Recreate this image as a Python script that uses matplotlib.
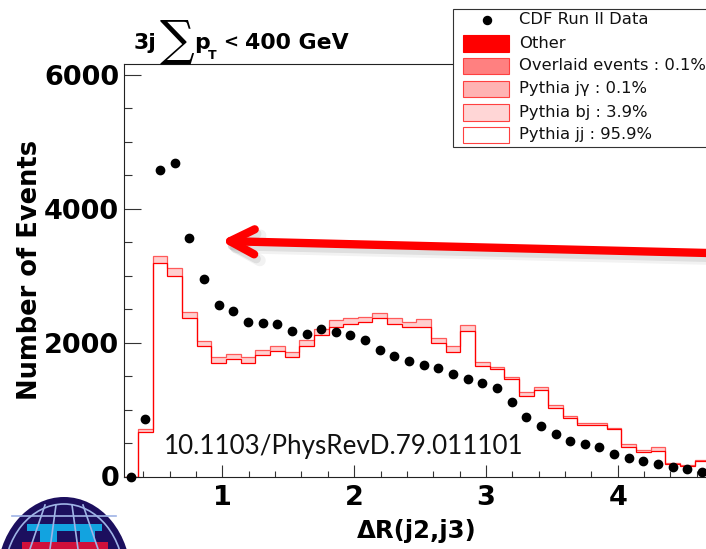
import numpy as np
import matplotlib
matplotlib.use("Agg")
import matplotlib.pyplot as plt
from matplotlib.patches import Rectangle, Ellipse, FancyArrowPatch
from matplotlib.lines import Line2D
from matplotlib.ticker import MultipleLocator, FixedLocator
from matplotlib.transforms import Affine2D

# --- 1. DATA ---
x_lo = 0.25          # low edge of the first bin
bin_w = 5.0 / 45     # 45 bins between 0.25 and 5.25

cdf_data = [0, 853, 4575, 4684, 3565, 2948, 2560, 2475, 2306, 2296,
            2281, 2172, 2132, 2202, 2157, 2110, 2037, 1888, 1803, 1724,
            1659, 1624, 1534, 1460, 1400, 1316, 1117, 893, 754, 634,
            535, 490, 440, 340, 281, 231, 191, 147, 117, 72]

pythia_jj = [0, 669, 3182, 2992, 2370, 1948, 1699, 1749, 1699, 1813,
             1878, 1779, 1953, 2112, 2236, 2280, 2311, 2361, 2271, 2236,
             2236, 1988, 1853, 2172, 1649, 1600, 1450, 1202, 1291, 1027,
             868, 769, 764, 709, 445, 370, 385, 191, 157, 236]

pythia_bj = [0, 36, 109, 125, 90, 79, 80, 74, 80, 75,
             75, 74, 84, 89, 100, 85, 74, 84, 99, 75,
             110, 74, 95, 89, 65, 39, 40, 55, 50, 40,
             35, 34, 30, 10, 40, 26, 51, 15, 15, 10]

legend_labels = ["CDF Run II Data", "Other", "Overlaid events : 0.1%",
                 "Pythia j\u03b3 : 0.1%", "Pythia bj : 3.9%", "Pythia jj : 95.9%"]
legend_colors = ["black", "#ff0000", "#ff8080", "#ffb3b3", "#ffd6d6", "white"]

y_ticks = [0, 2000, 4000, 6000]
x_ticks = [1, 2, 3, 4]

n = len(cdf_data)
edges = x_lo + bin_w * np.arange(n + 1)
centers = 0.5 * (edges[:-1] + edges[1:])
jj = np.array(pythia_jj, dtype=float)
total = jj + np.array(pythia_bj, dtype=float)

# --- 2. FIGURE ---
W, H = 706, 549
fig = plt.figure(figsize=(W / 100, H / 100), dpi=100)
# pixel coords, origin top-left
px = Affine2D().scale(1 / W, -1 / H).translate(0, 1) + fig.transFigure

ax = fig.add_axes([123.5 / W, (H - 476.5) / H, 659 / W, 412.5 / H])
ax.set_xlim(x_lo, x_lo + 5.0)
ax.set_ylim(0, 6160)

# stacked MC: bj band on top of jj
ax.stairs(total, edges, baseline=jj, fill=True, color="#ffd0d0", lw=0)
ax.stairs(total, edges, color="#ff5a5a", lw=0.9)
ax.stairs(jj, edges, color="#ff0000", lw=0.9)

ax.plot(centers, cdf_data, "o", color="black", ms=6, clip_on=False, zorder=5)

ax.xaxis.set_major_locator(FixedLocator(x_ticks))
ax.xaxis.set_minor_locator(MultipleLocator(0.2))
ax.yaxis.set_major_locator(FixedLocator(y_ticks))
ax.yaxis.set_minor_locator(MultipleLocator(500))
ax.tick_params(axis="both", which="both", direction="in", color="#333333", width=0.8,
               top=False, right=False)
ax.tick_params(axis="x", which="major", length=8.4, pad=6, labelsize=19.5)
ax.tick_params(axis="x", which="minor", length=4.3)
ax.tick_params(axis="y", which="major", length=12.2, pad=3.2, labelsize=19.5)
ax.tick_params(axis="y", which="minor", length=5.8)
for lab in ax.get_xticklabels() + ax.get_yticklabels():
    lab.set_fontweight("bold")
for sp in ax.spines.values():
    sp.set_color("#222222")
    sp.set_linewidth(0.8)

# --- 3. TEXTS ---
fig.text(30, 270, "Number of Events", transform=px, rotation=90, ha="center",
         va="center", fontsize=18.5, fontweight="bold")
fig.text(416.7, 531, "\u0394R(j2,j3)", transform=px, ha="center", va="center",
         fontsize=17.6, fontweight="bold")

fig.text(134, 49, "3j", transform=px, fontsize=15.8, fontweight="bold", va="baseline")
fig.text(160, 40.5, "\u2211", transform=px, fontsize=35, family="DejaVu Serif",
         va="center")
fig.text(194.5, 49, "p", transform=px, fontsize=15.8, fontweight="bold", va="baseline")
fig.text(208, 59, "T", transform=px, fontsize=9, fontweight="bold", va="baseline")
fig.text(223, 48, "<", transform=px, fontsize=13, fontweight="bold", va="baseline")
fig.text(245, 49, "400 GeV", transform=px, fontsize=15.8, fontweight="bold", va="baseline")

fig.text(164, 454, "10.1103/PhysRevD.79.011101", transform=px, fontsize=18.7,
         family="Lato", va="baseline", color="#111111")

# --- 4. LEGEND (drawn by hand, box runs off the right edge) ---
fig.add_artist(Rectangle((453.3, 9.3), 320, 137.4, transform=px, fc="white",
                         ec="#333333", lw=0.8))
rows = [20, 43.5, 66, 89, 112.5, 135]
fig.add_artist(Line2D([486.7], [rows[0]], marker="o", ms=5.8, color=legend_colors[0],
                      ls="none", transform=px))
for cy, col in zip(rows[1:], legend_colors[1:]):
    ec = "#ff0000" if col == "#ff0000" else "#ff4040"
    fig.add_artist(Rectangle((463, cy - 8.3), 46, 16.6, transform=px, fc=col,
                             ec=ec, lw=0.8))
for cy, lab in zip(rows, legend_labels):
    fig.text(519, cy, lab, transform=px, fontsize=11.8, va="center", color="#111111")

# --- 5. ARROW with a soft shadow ---
style = "->,head_length=1.75,head_width=0.9"
for dx, dy, a, lw in [(2, 6, 0.05, 8.5), (1.5, 4.5, 0.08, 6.5)]:
    fig.add_artist(FancyArrowPatch((720 + dx, 253.3 + dy), (221 + dx, 241 + dy),
                                   arrowstyle=style, mutation_scale=10, lw=lw,
                                   color="black", alpha=a, capstyle="round",
                                   joinstyle="round", shrinkA=0, shrinkB=0,
                                   transform=px))
fig.add_artist(FancyArrowPatch((720, 253.3), (221, 241), arrowstyle=style,
                               mutation_scale=10, lw=6, color="#ff0000",
                               capstyle="round", joinstyle="round",
                               shrinkA=0, shrinkB=0, transform=px))

# --- 6. CDF LOGO (bottom left corner, mostly cut off) ---
fig.add_artist(Ellipse((64, 578), 134, 162, transform=px, fc="#1c0f5e", ec="none"))
fig.add_artist(Ellipse((64, 578), 120, 148, transform=px, fc="none", ec="#9fb4e6", lw=1.2))
for x0, x1 in [(45, 30), (56, 50), (72, 78), (83, 98)]:
    fig.add_artist(Line2D([x0, x1], [505, 549], color="#9fb4e6", lw=1.2, transform=px))
fig.add_artist(Line2D([12, 116], [516, 516], color="#9fb4e6", lw=1.2, transform=px))
fig.add_artist(Rectangle((27, 524), 75, 7, transform=px, fc="#12a3e0", ec="none"))
fig.add_artist(Rectangle((40, 531), 17, 14, transform=px, fc="#12a3e0", ec="none"))
fig.add_artist(Rectangle((80, 531), 15, 14, transform=px, fc="#12a3e0", ec="none"))
fig.add_artist(Rectangle((22, 542), 86, 8, transform=px, fc="#d0103a", ec="none"))

fig.savefig("out.png", dpi=100)
